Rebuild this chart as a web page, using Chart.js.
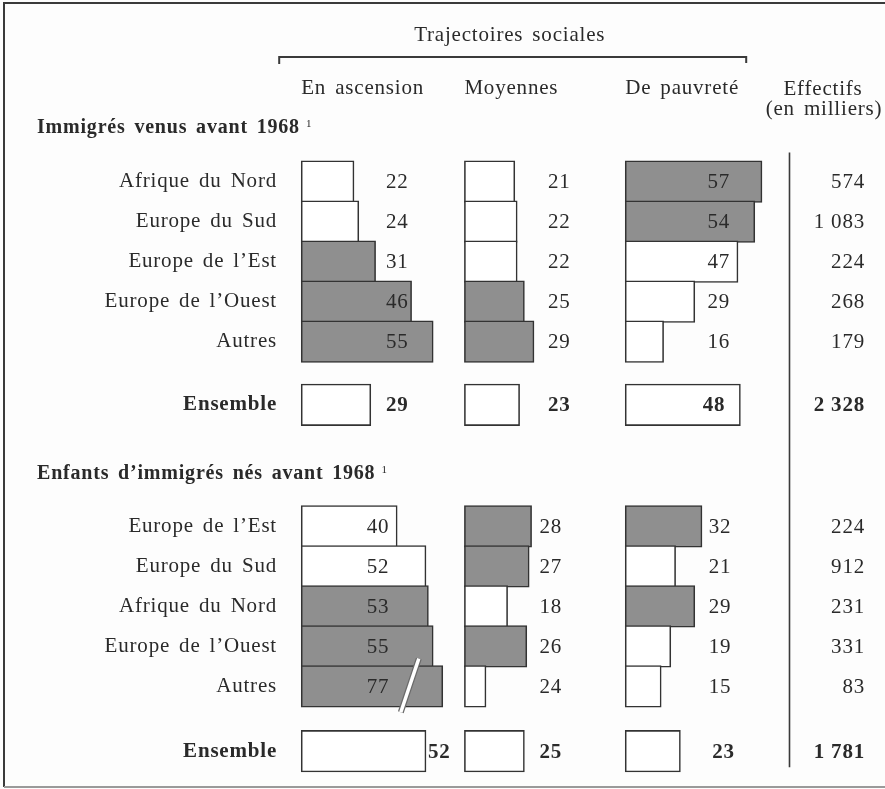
<!DOCTYPE html>
<html lang="fr">
<head>
<meta charset="utf-8">
<title>Trajectoires sociales</title>
<script src="https://cdn.jsdelivr.net/npm/chart.js@4.4.1/dist/chart.umd.min.js"></script>
<style>
    html, body { margin: 0; padding: 0; overflow: hidden; background: #fdfdfd; }
    #wrap { position: relative; width: 885px; height: 789px; }
</style>
</head>
<body>
<div id="wrap"><canvas id="trajectoiresChart"></canvas></div>
<script>
// Immigrés venus avant 1968 (en %)
const imRegions = ['Afrique du Nord', 'Europe du Sud', 'Europe de l’Est', 'Europe de l’Ouest', 'Autres'];
const imAscension = [22, 24, 31, 46, 55];
const imMoyennes = [21, 22, 22, 25, 29];
const imPauvrete = [57, 54, 47, 29, 16];
const imEnsemble = [29, 23, 48];
const imEffectifs = [574, 1083, 224, 268, 179];
const imEffectifsTotal = 2328;

// Enfants d'immigrés nés avant 1968 (en %)
const enRegions = ['Europe de l’Est', 'Europe du Sud', 'Afrique du Nord', 'Europe de l’Ouest', 'Autres'];
const enAscension = [40, 52, 53, 55, 77];
const enMoyennes = [28, 27, 18, 26, 24];
const enPauvrete = [32, 21, 29, 19, 15];
const enEnsemble = [52, 25, 23];
const enEffectifs = [224, 912, 231, 331, 83];
const enEffectifsTotal = 1781;

const columnTitles = ['En ascension', 'Moyennes', 'De pauvreté'];

// the source cuts long bars and draws one bar shorter than its printed value
const BREAK_AT = 59;
const misdrawn = { 'en-1-4': 9 };

const FONT = 'Liberation Serif';
const INK = '#2a2a2a';
const GREY = '#8f8f8f';
const PX_PER_PCT = 2.4;
const ROW_PX = 40;
const AXIS_WIDTH = 300;
const colStart = [0.5, 68.5, 135.5];

const sections = [
    {
        key: 'im', title: 'Immigrés venus avant 1968', regions: imRegions,
        cols: [imAscension, imMoyennes, imPauvrete], totals: imEnsemble,
        effectifs: imEffectifs, effectifsTotal: imEffectifsTotal,
        titleRow: 3.33, firstRow: 4.54, totalRow: 10.12,
        labelAt: [40, 39.5, 39], totalLabelAt: [40, 39.5, 37]
    },
    {
        key: 'en', title: 'Enfants d’immigrés nés avant 1968', regions: enRegions,
        cols: [enAscension, enMoyennes, enPauvrete], totals: enEnsemble,
        effectifs: enEffectifs, effectifsTotal: enEffectifsTotal,
        titleRow: 11.97, firstRow: 13.16, totalRow: 18.78,
        labelAt: [32, 36, 39.5], totalLabelAt: [57.5, 36, 41]
    }
];

function formatThousands(n) {
    return String(n).replace(/\B(?=(\d{3})+(?!\d))/g, ' ');
}

const points = [];
const rowTicks = [];
sections.forEach(function (s) {
    s.regions.forEach((name, r) => rowTicks.push({ value: s.firstRow + r, label: name, bold: false }));
    rowTicks.push({ value: s.totalRow, label: 'Ensemble', bold: true });

    s.cols.forEach(function (values, c) {
        values.forEach(function (v, r) {
            const len = misdrawn[`${s.key}-${c}-${r}`] ?? Math.min(v, BREAK_AT);
            points.push({
                x: [colStart[c], colStart[c] + len], y: s.firstRow + r,
                value: v, shade: v > s.totals[c], broken: v > BREAK_AT,
                labelX: colStart[c] + s.labelAt[c], bold: false
            });
        });
        const t = s.totals[c];
        points.push({
            x: [colStart[c], colStart[c] + t], y: s.totalRow,
            value: t, shade: false, broken: false,
            labelX: colStart[c] + s.totalLabelAt[c], bold: true
        });
    });
});

function font(size, bold) {
    return `${bold ? 'bold ' : ''}${size}px "${FONT}"`;
}

const tableText = {
    id: 'tableText',
    beforeDraw(chart) {
        const ctx = chart.ctx;
        ctx.letterSpacing = '0.8px';
        ctx.wordSpacing = '3px';
    },
    afterDatasetsDraw(chart) {
        const ctx = chart.ctx;
        const xs = chart.scales.x;
        const ys = chart.scales.y;
        const meta = chart.getDatasetMeta(0);

        ctx.save();
        // break marks on the cut bars
        points.forEach(function (p, i) {
            if (!p.broken) return;
            const bar = meta.data[i];
            const mid = bar.x - 33;
            const top = bar.y - bar.height / 2 - 7;
            const bottom = bar.y + bar.height / 2 + 5;
            ctx.lineCap = 'butt';
            ctx.strokeStyle = '#6a6a6a';
            ctx.lineWidth = 6;
            ctx.beginPath();
            ctx.moveTo(mid + 9, top);
            ctx.lineTo(mid - 9, bottom);
            ctx.stroke();
            ctx.strokeStyle = '#ffffff';
            ctx.lineWidth = 3.5;
            ctx.stroke();
        });

        // percentages
        ctx.fillStyle = INK;
        ctx.textAlign = 'center';
        ctx.textBaseline = 'middle';
        points.forEach(function (p) {
            ctx.font = font(21, p.bold);
            ctx.fillText(String(p.value), xs.getPixelForValue(p.labelX), ys.getPixelForValue(p.y) + 1);
        });
        ctx.restore();
    },
    afterDraw(chart) {
        const ctx = chart.ctx;
        const xs = chart.scales.x;
        const ys = chart.scales.y;
        const right = chart.chartArea.right;
        const colPx = colStart.map(v => xs.getPixelForValue(v));

        ctx.save();
        ctx.fillStyle = INK;
        ctx.strokeStyle = '#3a3a3a';

        // frame
        ctx.lineWidth = 2;
        ctx.beginPath();
        ctx.moveTo(right, 3);
        ctx.lineTo(4, 3);
        ctx.lineTo(4, 787);
        ctx.stroke();
        ctx.strokeStyle = '#9a9a9a';
        ctx.beginPath();
        ctx.moveTo(4, 787);
        ctx.lineTo(right, 787);
        ctx.stroke();

        // title and bracket over the three trajectories
        const bracketLeft = colPx[0] - 22;
        const bracketRight = colPx[2] + 121;
        ctx.strokeStyle = '#3a3a3a';
        ctx.lineWidth = 2;
        ctx.beginPath();
        ctx.moveTo(bracketLeft, 64);
        ctx.lineTo(bracketLeft, 57);
        ctx.lineTo(bracketRight, 57);
        ctx.lineTo(bracketRight, 63);
        ctx.stroke();

        ctx.textBaseline = 'alphabetic';
        ctx.font = font(21, false);
        ctx.textAlign = 'center';
        ctx.fillText('Trajectoires sociales', (bracketLeft + bracketRight) / 2 - 3, 41);

        ctx.textAlign = 'left';
        columnTitles.forEach((t, c) => ctx.fillText(t, colPx[c], 94));

        ctx.textAlign = 'center';
        ctx.fillText('Effectifs', 823, 95);
        ctx.fillText('(en milliers)', 824, 115);

        // separator before the head counts
        ctx.lineWidth = 1.6;
        ctx.beginPath();
        ctx.moveTo(789.5, ys.getPixelForValue(sections[0].firstRow) - 29);
        ctx.lineTo(789.5, ys.getPixelForValue(sections[1].totalRow) + 16);
        ctx.stroke();

        sections.forEach(function (s) {
            // section heading with footnote call
            ctx.textAlign = 'left';
            ctx.textBaseline = 'alphabetic';
            ctx.wordSpacing = '3px';
            ctx.font = font(20, true);
            const ty = ys.getPixelForValue(s.titleRow);
            ctx.fillText(s.title, 37, ty);
            const w = ctx.measureText(s.title).width;
            ctx.font = font(11, false);
            ctx.fillText('1', 37 + w + 6, ty - 6);

            // head counts, thousands split by a plain space
            ctx.textAlign = 'right';
            ctx.textBaseline = 'middle';
            ctx.wordSpacing = '0px';
            ctx.font = font(21, false);
            s.effectifs.forEach((n, r) => ctx.fillText(formatThousands(n), right - 20, ys.getPixelForValue(s.firstRow + r) + 1));
            ctx.font = font(21, true);
            ctx.fillText(formatThousands(s.effectifsTotal), right - 20, ys.getPixelForValue(s.totalRow) + 1);
        });
        ctx.restore();
    }
};

const canvas = document.getElementById('trajectoiresChart');
new Chart(canvas.getContext('2d'), {
    type: 'bar',
    data: {
        datasets: [{
            data: points,
            backgroundColor: ctx => (ctx.raw && ctx.raw.shade ? GREY : '#ffffff'),
            borderColor: '#333333',
            borderWidth: 1.6,
            borderSkipped: false,
            barThickness: ROW_PX + 1.6
        }]
    },
    options: {
        indexAxis: 'y',
        responsive: true,
        maintainAspectRatio: false,
        animation: false,
        devicePixelRatio: 1,
        layout: { padding: 0 },
        plugins: {
            legend: { display: false },
            tooltip: { enabled: false }
        },
        scales: {
            x: {
                type: 'linear',
                display: false,
                min: 0,
                max: (885 - AXIS_WIDTH) / PX_PER_PCT
            },
            y: {
                type: 'linear',
                reverse: true,
                offset: false,
                min: 0,
                max: 789 / ROW_PX,
                afterBuildTicks: axis => { axis.ticks = rowTicks.map(t => ({ value: t.value })); },
                afterFit: axis => {
                    // the row labels sit well inside the plot, no room needed at the ends
                    axis.width = AXIS_WIDTH;
                    axis.paddingTop = 0;
                    axis.paddingBottom = 0;
                },
                grid: { display: false, drawTicks: false },
                border: { display: false },
                ticks: {
                    autoSkip: false,
                    padding: 23,
                    color: INK,
                    font: ctx => ({ family: FONT, size: 21, weight: rowTicks[ctx.index] && rowTicks[ctx.index].bold ? 'bold' : 'normal' }),
                    callback: (value, index) => (rowTicks[index] ? rowTicks[index].label : '')
                }
            }
        }
    },
    plugins: [tableText]
});
</script>
</body>
</html>
